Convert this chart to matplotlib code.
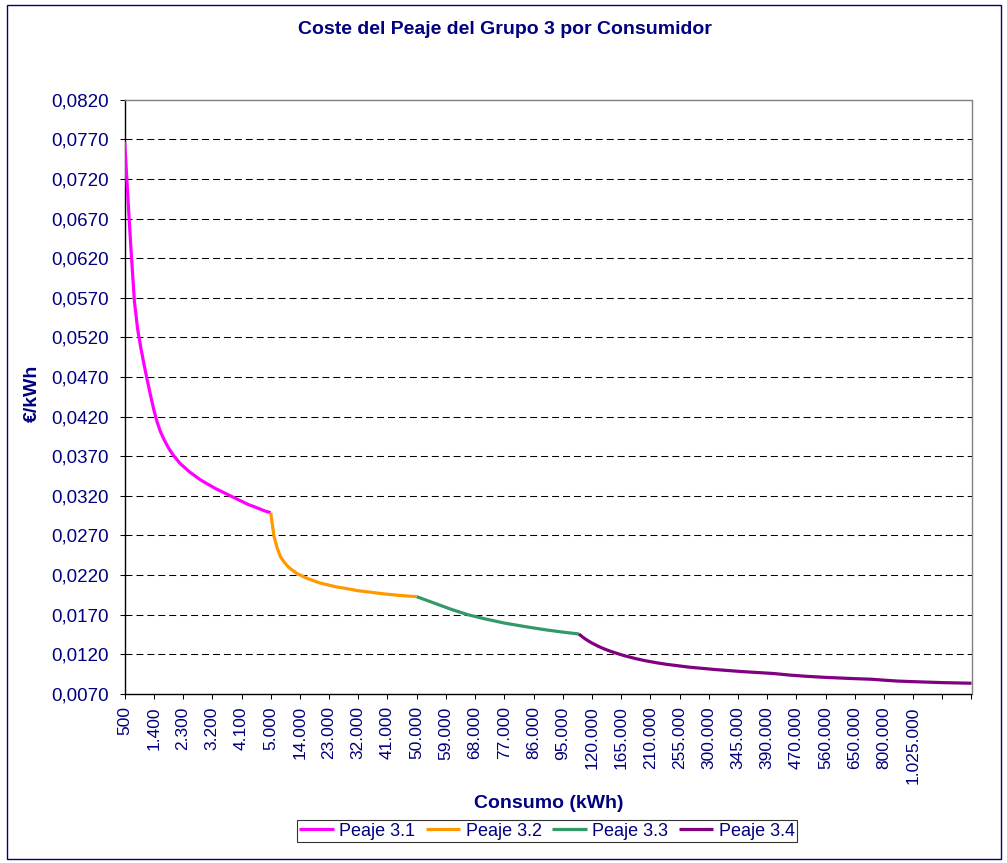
import numpy as np
import matplotlib
matplotlib.use("Agg")
import matplotlib.pyplot as plt
from matplotlib.patches import Rectangle
from matplotlib.ticker import FuncFormatter

plt.rcParams['font.family'] = ['Liberation Sans', 'DejaVu Sans']

NAVY = '#000080'

# Consumption categories (kWh): the step widens as consumption grows
category_ranges = [
    (500, 5000, 100),
    (5000, 100000, 1000),
    (100000, 400000, 5000),
    (400000, 700000, 10000),
    (700000, 1500000, 25000),
]
kwh_categories = np.concatenate([np.arange(a, b, s) for a, b, s in category_ranges])

# Labels shown every 9 categories
tick_labels = ["500", "1.400", "2.300", "3.200", "4.100", "5.000", "14.000",
               "23.000", "32.000", "41.000", "50.000", "59.000", "68.000",
               "77.000", "86.000", "95.000", "120.000", "165.000", "210.000",
               "255.000", "300.000", "345.000", "390.000", "470.000",
               "560.000", "650.000", "800.000", "1.025.000", "", ""]

# Peaje 3.1 (kWh, EUR/kWh)
p31_kwh = [500, 600, 700, 800, 900, 1000, 1100, 1200, 1300, 1400, 1500, 1600,
           1700, 1800, 1900, 2000, 2200, 2500, 2800, 3000, 3300, 3500, 3700,
           4000, 4300, 4500, 4800, 5000]
p31_val = [0.0767, 0.0695, 0.0627, 0.0565, 0.0530, 0.0506, 0.0485, 0.0465,
           0.0446, 0.0428, 0.0413, 0.0401, 0.0392, 0.0384, 0.0377, 0.0371,
           0.0361, 0.0350, 0.0341, 0.0336, 0.0329, 0.0325, 0.0321, 0.0315,
           0.0309, 0.0306, 0.0301, 0.02985]

# Peaje 3.2
p32_kwh = [5000, 6000, 7000, 8000, 9000, 10000, 11000, 12000, 13000, 14000,
           16000, 18000, 20000, 22000, 25000, 28000, 32000, 36000, 40000,
           45000, 50000]
p32_val = [0.02985, 0.0269, 0.0254, 0.0243, 0.0237, 0.0232, 0.0228, 0.0225,
           0.0222, 0.0220, 0.0216, 0.0213, 0.0210, 0.0208, 0.0205, 0.0203,
           0.0200, 0.0198, 0.0196, 0.0194, 0.01925]

# Peaje 3.3
p33_kwh = [50000, 53000, 57000, 61000, 66000, 71000, 77000, 83000, 90000,
           95000, 100000]
p33_val = [0.01925, 0.01880, 0.01820, 0.01760, 0.01695, 0.01645, 0.01592,
           0.01550, 0.01505, 0.01478, 0.01454]

# Peaje 3.4
p34_kwh = [100000, 105000, 110000, 115000, 120000, 130000, 140000, 150000,
           160000, 170000, 185000, 200000, 220000, 235000, 270000, 310000,
           350000, 400000, 450000, 500000, 560000, 650000, 700000, 800000,
           900000, 1025000, 1250000, 1475000]
p34_val = [0.01454, 0.01420, 0.01390, 0.01364, 0.01340, 0.01298, 0.01262,
           0.01232, 0.01205, 0.01180, 0.01148, 0.01120, 0.01090, 0.01071,
           0.01035, 0.01005, 0.00980, 0.00955, 0.00935, 0.00920, 0.00906,
           0.00890, 0.00883, 0.00871, 0.00860, 0.00852, 0.00840, 0.00832]

series = [
    ("Peaje 3.1", p31_kwh, p31_val, '#FF00FF'),
    ("Peaje 3.2", p32_kwh, p32_val, '#FF9900'),
    ("Peaje 3.3", p33_kwh, p33_val, '#339966'),
    ("Peaje 3.4", p34_kwh, p34_val, '#800080'),
]

y_ticks = [0.0070, 0.0120, 0.0170, 0.0220, 0.0270, 0.0320, 0.0370, 0.0420,
           0.0470, 0.0520, 0.0570, 0.0620, 0.0670, 0.0720, 0.0770, 0.0820]

W, H = 1007, 863
fig = plt.figure(figsize=(W / 100, H / 100), dpi=100)
fig.patch.set_facecolor('white')

# outer chart frame
fig.patches.append(Rectangle((6.5 / W, 4 / H), (1001 - 6.5) / W, (858 - 4) / H,
                             transform=fig.transFigure, fill=False,
                             edgecolor=NAVY, linewidth=1.0))

left, right, top, bottom = 124.7, 971.5, 99.7, 693.7
ax = fig.add_axes([left / W, 1 - bottom / H, (right - left) / W, (bottom - top) / H])

n_cat = len(kwh_categories)
for name, xs, ys, col in series:
    pos = np.searchsorted(kwh_categories, xs)
    ax.plot(pos, ys, color=col, lw=2.3, label=name, zorder=3,
            solid_capstyle='butt', solid_joinstyle='round')

for yv in y_ticks[1:-1]:
    ax.axhline(yv, color='black', lw=0.75, linestyle=(0, (6.7, 3.8)), zorder=1)

ax.set_xlim(0, n_cat - 1)
ax.set_ylim(y_ticks[0], y_ticks[-1])
ax.set_yticks(y_ticks)
ax.yaxis.set_major_formatter(FuncFormatter(lambda v, p: f"{v:.4f}".replace('.', ',')))
ax.set_xticks(np.arange(0, n_cat, 9))
ax.set_xticklabels(tick_labels, rotation=90, va='top', ha='center')

ax.tick_params(axis='both', direction='out', length=3.6, width=0.75,
               color='black', labelcolor=NAVY)
ax.tick_params(axis='y', labelsize=13.5, pad=8)
ax.tick_params(axis='x', labelsize=12.5, pad=5.5)

for s in ['left', 'bottom']:
    ax.spines[s].set_color('black')
    ax.spines[s].set_linewidth(1.0)
for s in ['top', 'right']:
    ax.spines[s].set_color('#808080')
    ax.spines[s].set_linewidth(1.0)

fig.text(505 / W, 1 - 30 / H, "Coste del Peaje del Grupo 3 por Consumidor",
         ha='center', va='center', fontsize=14, fontweight='bold', color=NAVY)
fig.text(32 / W, 1 - 393 / H, "€/kWh", ha='center', va='center', rotation=90,
         fontsize=14, fontweight='bold', color=NAVY)
fig.text(549 / W, 1 - 803 / H, "Consumo (kWh)", ha='center', va='center',
         fontsize=14, fontweight='bold', color=NAVY)

leg = fig.legend(loc='center', bbox_to_anchor=(547 / W, 1 - 831 / H), ncol=4,
                 frameon=True, fancybox=False, fontsize=13, handlelength=1.9,
                 handletextpad=0.3, columnspacing=0.6, borderpad=0.15,
                 borderaxespad=0)
leg.get_frame().set_edgecolor('black')
leg.get_frame().set_linewidth(0.8)
for t in leg.get_texts():
    t.set_color(NAVY)

fig.savefig('out.png', dpi=100, facecolor='white')
